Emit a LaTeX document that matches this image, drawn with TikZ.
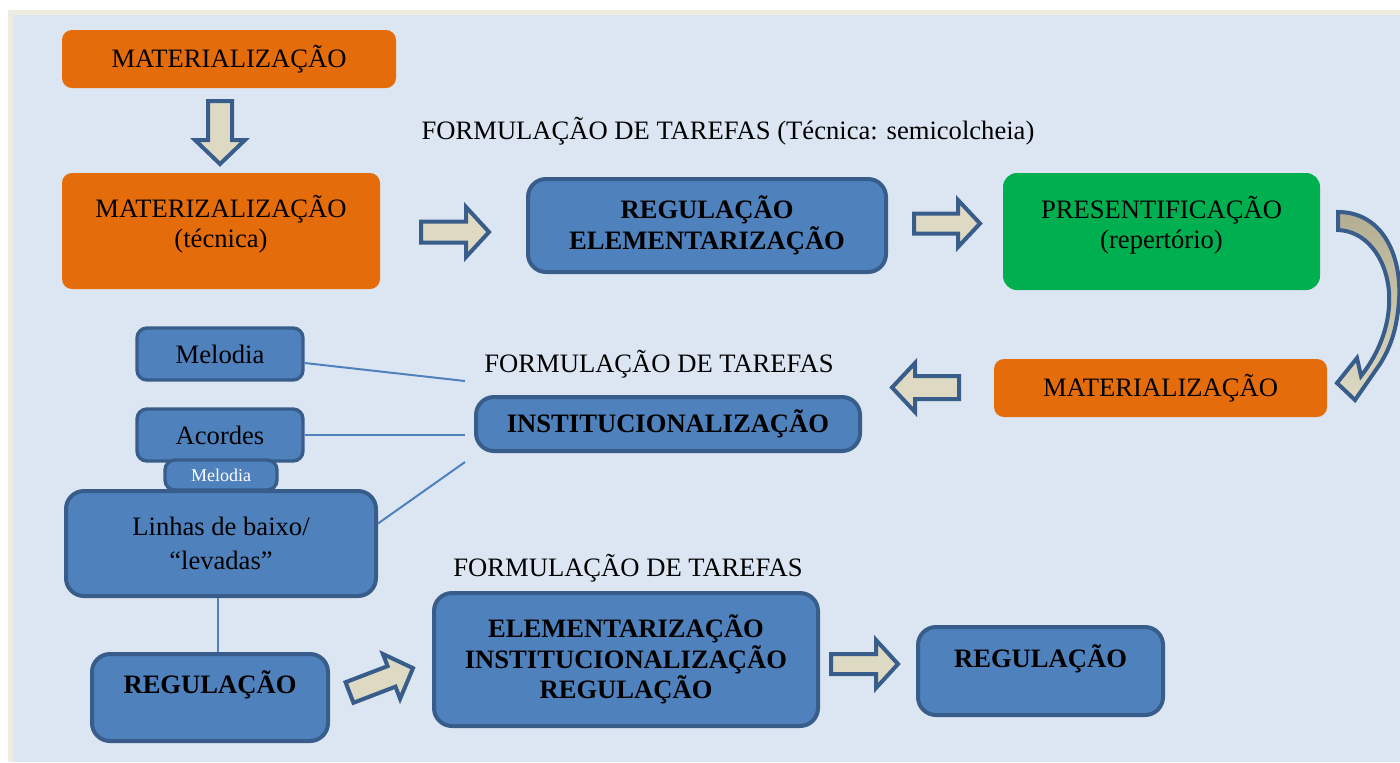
\documentclass[tikz,border=0pt]{standalone}
\usepackage{fontspec}
\setmainfont{Liberation Serif}
\usetikzlibrary{calc}
\definecolor{orng}{HTML}{E46C0A}
\definecolor{grn}{HTML}{00B050}
\definecolor{bfill}{HTML}{4F81BD}
\definecolor{bline}{HTML}{385D8A}
\definecolor{afill}{HTML}{DDD9C3}
\definecolor{afilldark}{HTML}{B3AD92}
\definecolor{panel}{HTML}{DCE6F2}
\definecolor{framec}{HTML}{EEECE1}
\newcommand{\blockarrow}[7]{%
  \draw[barrow, shift={(#1,#2)}, rotate=#3]
    (0,-#7) -- ({#4-#5},-#7) -- ({#4-#5},-#6) -- (#4,0) -- ({#4-#5},#6) -- ({#4-#5},#7) -- (0,#7) -- cycle;}
\begin{document}
\begin{tikzpicture}[x=0.5pt,y=-0.5pt,
  every node/.style={font=\fontsize{13.3}{15.3}\selectfont, text=black, align=center, inner sep=0pt},
  obox/.style={fill=orng, rounded corners=5pt},
  gbox/.style={fill=grn, rounded corners=7pt},
  bbox/.style={fill=bfill, draw=bline, line width=2pt, rounded corners=9pt},
  sbox/.style={fill=bfill, draw=bline, line width=1.7pt, rounded corners=5pt},
  barrow/.style={fill=afill, draw=bline, line width=2pt, line join=miter},
  link/.style={draw=bfill, line width=1pt},
  heading/.style={}]
\useasboundingbox (0,0) rectangle (1400,762);
\fill[white] (0,0) rectangle (1400,762);
\fill[framec] (8,10) rectangle (1400,762);
\fill[panel] (13,15) rectangle (1400,762);

% headings
\node[heading] (h1) at (728,131) {FORMULAÇÃO DE TAREFAS (Técnica: semicolcheia)};
\node[heading] (h2) at (659,364) {FORMULAÇÃO DE TAREFAS};
\node[heading] (h3) at (628,568) {FORMULAÇÃO DE TAREFAS};

% orange / green boxes
\node[obox, minimum width=167pt, minimum height=29pt] (o1) at (229,59) {MATERIALIZAÇÃO};
\node[obox, minimum width=159pt, minimum height=58pt] (o2) at (221,231) {};
\node (o2t) at (221,224) {MATERIZALIZAÇÃO\\(técnica)};
\node[gbox, minimum width=158.5pt, minimum height=58.5pt] (g1) at (1161.5,231.5) {};
\node (g1t) at (1161.5,225) {PRESENTIFICAÇÃO\\(repertório)};
\node[obox, minimum width=166.5pt, minimum height=29pt] (o3) at (1160.5,388) {MATERIALIZAÇÃO};

% blue boxes
\node[bbox, minimum width=179pt, minimum height=46.5pt, font=\fontsize{13.3}{15.3}\selectfont\bfseries] (b1) at (707,225.5) {REGULAÇÃO\\ELEMENTARIZAÇÃO};
\node[bbox, minimum width=192pt, minimum height=27pt, font=\fontsize{13.3}{15.3}\selectfont\bfseries] (b2) at (668,424) {INSTITUCIONALIZAÇÃO};
\node[sbox, minimum width=83pt, minimum height=26pt] (mel) at (220,354) {Melodia};
\node[sbox, minimum width=83pt, minimum height=26pt] (aco) at (220,435) {Acordes};
\node[sbox, minimum width=56pt, minimum height=15pt, text=white, font=\fontsize{9}{10}\selectfont] (mel2) at (221,475) {Melodia};
\node[bbox, minimum width=155pt, minimum height=52.5pt, font=\fontsize{13.3}{17}\selectfont] (lin) at (221,543.5) {Linhas de baixo/\\“levadas”};
\node[bbox, minimum width=118pt, minimum height=43.5pt] (rg1) at (210,697.5) {};
\node[font=\fontsize{13.3}{15.3}\selectfont\bfseries] (rg1t) at (210,685) {REGULAÇÃO};
\node[bbox, minimum width=192pt, minimum height=66.5pt, font=\fontsize{13.3}{15.3}\selectfont\bfseries] (b3) at (626,659.5) {ELEMENTARIZAÇÃO\\INSTITUCIONALIZAÇÃO\\REGULAÇÃO};
\node[bbox, minimum width=122.5pt, minimum height=44pt] (rg2) at (1040.5,671) {};
\node[font=\fontsize{13.3}{15.3}\selectfont\bfseries] (rg2t) at (1040.5,659) {REGULAÇÃO};

% thin links
\coordinate (e1) at (465,381);
\coordinate (e2) at (465,435);
\coordinate (e3) at (465,462);
\draw[link] ($(mel.east)+(0,9)$) -- (e1);
\draw[link] (aco.east) -- (e2);
\draw[link] ($(lin.east)+(0,-20)$) -- (e3);
\coordinate (v1) at ($(lin.south)+(-3,0)$);
\draw[link] (v1) -- (v1 |- rg1.north);

% block arrows: tail x, tail y, rotation, length, head length, half head, half shaft
\blockarrow{220}{101}{-90}{63}{24}{25}{12}
\blockarrow{421}{232}{0}{68}{23}{25}{10.5}
\blockarrow{914}{223.5}{0}{66}{22}{23.5}{10}
\blockarrow{959}{387.5}{180}{67}{23}{24.5}{11.5}
\blockarrow{831}{664}{0}{67}{22}{24}{10}
\blockarrow{349.5}{692.5}{21}{68}{23}{24}{11}

% curved arrow
\draw[barrow, top color=afilldark, bottom color=afill]
  (1338,212) .. controls (1382,212) and (1402,255) .. (1399,300)
  .. controls (1397,330) and (1390,348) .. (1380,364)
  -- (1355,400) -- (1337,383) -- (1357,358) -- (1361,376)
  .. controls (1380,352) and (1391,322) .. (1389,292)
  .. controls (1386,256) and (1365,231) .. (1338,230) -- cycle;
\end{tikzpicture}
\end{document}
